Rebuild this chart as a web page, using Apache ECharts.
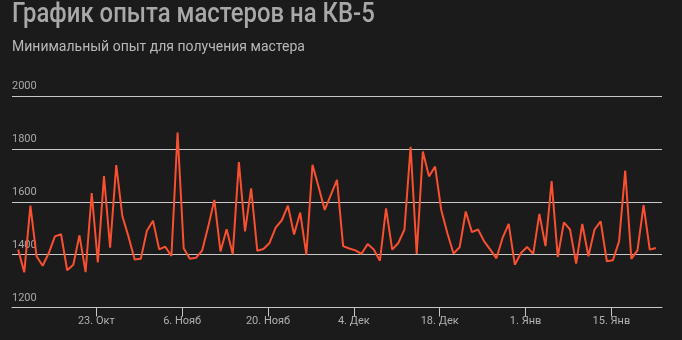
<!DOCTYPE html>
<html>
<head>
<meta charset="utf-8">
<script src="https://cdn.jsdelivr.net/npm/echarts@6/dist/echarts.min.js"></script>
<style>
  html, body { margin: 0; padding: 0; background: #1b1b1b; }
  #chart { width: 682px; height: 340px; }
</style>
</head>
<body>
<div id="chart"></div>
<script>
// ---- data ----
const titleText = 'График опыта мастеров на КВ-5';
const subtitleText = 'Минимальный опыт для получения мастера';
const startDate = [2017, 9, 10];            // first sample: 10 Oct
const monthNames = ['Янв','Фев','Мар','Апр','Май','Июн','Июл','Авг','Сен','Окт','Нояб','Дек'];
const tickDates = ['2017-10-23','2017-11-06','2017-11-20','2017-12-04','2017-12-18','2018-01-01','2018-01-15'];
const yTicks = [1200, 1400, 1600, 1800, 2000];
const values = [
  1419, 1333, 1585, 1394, 1358, 1406, 1469, 1477, 1341, 1362,
  1473, 1334, 1633, 1371, 1697, 1426, 1739, 1545, 1468, 1382,
  1384, 1490, 1528, 1420, 1430, 1395, 1862, 1424, 1384, 1388,
  1415, 1506, 1607, 1412, 1496, 1401, 1750, 1488, 1651, 1415,
  1421, 1444, 1502, 1530, 1585, 1476, 1559, 1400, 1740, 1656,
  1569, 1626, 1683, 1432, 1423, 1416, 1403, 1440, 1419, 1377,
  1575, 1419, 1444, 1495, 1808, 1403, 1790, 1696, 1733, 1569,
  1481, 1404, 1428, 1563, 1485, 1495, 1450, 1419, 1386, 1463,
  1516, 1362, 1406, 1429, 1403, 1554, 1432, 1678, 1391, 1522,
  1495, 1366, 1516, 1394, 1495, 1526, 1375, 1379, 1450, 1718,
  1384, 1416, 1587, 1419, 1425
];

// ---- derived ----
const DAY = 86400000;
const t0 = Date.UTC(startDate[0], startDate[1], startDate[2]);
const sampleOffset = 0.25; // samples taken in the morning (~06:00)
const seriesData = values.map((v, i) => [i + sampleOffset, v]);
const tickPos = tickDates.map(d => (Date.parse(d + 'T00:00:00Z') - t0) / DAY);
function fmt(x) {
  const d = new Date(t0 + Math.round(x) * DAY);
  return d.getUTCDate() + '. ' + monthNames[d.getUTCMonth()];
}

const gridColor = '#c8c8c8';
const chart = echarts.init(document.getElementById('chart'), null, { renderer: 'canvas' });
chart.setOption({
  backgroundColor: '#1b1b1b',
  animation: false,
  graphic: [
    {
      type: 'text', x: 12, y: 2, scaleX: 0.885, silent: true,
      style: {
        text: titleText, fill: '#a8a8a8', fontSize: 27, fontWeight: 500,
        fontFamily: 'Roboto, sans-serif', verticalAlign: 'top', align: 'left'
      }
    }
  ],
  title: [
    {
      text: subtitleText, left: 12, top: 40, padding: 0,
      textStyle: { color: '#b8b8b8', fontSize: 14, fontWeight: 'normal', fontFamily: 'Roboto, sans-serif' }
    }
  ],
  grid: { left: 12, right: 20, top: 96, bottom: 32.5, containLabel: false },
  xAxis: {
    type: 'value',
    min: -0.75,
    max: values.length + 0.25,
    splitLine: { show: false },
    axisLine: { show: true, lineStyle: { color: gridColor, width: 1 } },
    axisTick: { show: true, length: 9, customValues: tickPos, lineStyle: { color: gridColor } },
    axisLabel: {
      customValues: tickPos, formatter: fmt, margin: 8,
      color: '#b0b0b0', fontSize: 11, fontFamily: 'Roboto, sans-serif'
    }
  },
  yAxis: {
    type: 'value',
    min: yTicks[0], max: yTicks[yTicks.length - 1], interval: 200,
    axisLine: { show: false },
    axisTick: { show: false },
    splitLine: { show: true, lineStyle: { color: gridColor, width: 1 } },
    axisLabel: {
      inside: true, verticalAlign: 'bottom', margin: 0, padding: [0, 0, 4, 0],
      formatter: v => String(v),
      color: '#a8a8a8', fontSize: 11, fontFamily: 'Roboto, sans-serif'
    }
  },
  series: [{
    type: 'line',
    data: seriesData,
    showSymbol: false,
    lineStyle: { color: '#f9502f', width: 2 },
    itemStyle: { color: '#f9502f' }
  }]
});
</script>
</body>
</html>
